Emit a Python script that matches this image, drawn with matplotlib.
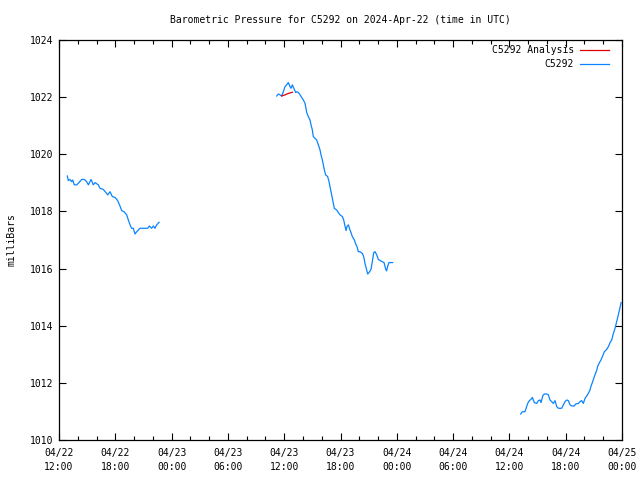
import matplotlib
matplotlib.use("Agg")
import matplotlib.pyplot as plt
from matplotlib.ticker import MultipleLocator, FixedLocator

# hours since 2024-04-22 12:00 UTC
seg1_t = [0.89, 0.99, 1.17, 1.35, 1.46, 1.63, 1.88, 2.13, 2.42, 2.70, 2.95, 3.13, 3.41, 3.66, 3.84, 4.19,
          4.37, 4.72, 5.08, 5.19, 5.44, 5.68, 5.97, 6.25, 6.50, 6.68, 6.93, 7.21, 7.39, 7.57, 7.74, 7.92,
          8.10, 8.28, 8.63, 9.17, 9.45, 9.63, 9.88, 10.05, 10.23, 10.41, 10.66]
seg1_p = [1019.24, 1019.08, 1019.12, 1019.04, 1019.10, 1018.93, 1018.93, 1019.01, 1019.12, 1019.12, 1019.04,
          1018.93, 1019.12, 1018.93, 1019.01, 1018.93, 1018.81, 1018.77, 1018.63, 1018.58, 1018.69, 1018.52,
          1018.49, 1018.38, 1018.19, 1018.03, 1017.99, 1017.88, 1017.70, 1017.53, 1017.41, 1017.41, 1017.21,
          1017.29, 1017.41, 1017.41, 1017.41, 1017.49, 1017.41, 1017.49, 1017.41, 1017.53, 1017.62]

seg2_t = [23.20, 23.38, 23.55, 23.73, 23.91, 24.09, 24.26, 24.44, 24.62, 24.73, 24.87, 25.08, 25.22, 25.33,
          25.51, 25.69, 25.86, 26.04, 26.22, 26.32, 26.40, 26.57, 26.75, 26.86, 27.00, 27.10, 27.28, 27.46,
          27.64, 27.82, 27.92, 28.07, 28.17, 28.28, 28.42, 28.63, 28.78, 28.88, 28.99, 29.13, 29.24, 29.34,
          29.59, 29.77, 29.95, 30.20, 30.34, 30.48, 30.59, 30.69, 30.84, 31.01, 31.12, 31.26, 31.48, 31.62,
          31.76, 31.90, 32.08, 32.33, 32.47, 32.61, 32.79, 32.90, 33.04, 33.25, 33.39, 33.54, 33.68, 33.86,
          34.03, 34.21, 34.46, 34.64, 34.82, 34.92, 35.03, 35.17, 35.56]
seg2_p = [1022.04, 1022.11, 1022.08, 1022.04, 1022.19, 1022.37, 1022.43, 1022.51, 1022.37, 1022.31, 1022.43,
          1022.27, 1022.16, 1022.19, 1022.16, 1022.08, 1021.99, 1021.90, 1021.78, 1021.61, 1021.46, 1021.32,
          1021.20, 1021.03, 1020.85, 1020.62, 1020.56, 1020.50, 1020.33, 1020.15, 1019.98, 1019.80, 1019.63,
          1019.45, 1019.28, 1019.22, 1019.04, 1018.87, 1018.69, 1018.46, 1018.28, 1018.11, 1018.05, 1017.96,
          1017.88, 1017.82, 1017.70, 1017.49, 1017.33, 1017.47, 1017.53, 1017.35, 1017.26, 1017.12, 1017.00,
          1016.86, 1016.77, 1016.59, 1016.59, 1016.53, 1016.42, 1016.18, 1015.95, 1015.81, 1015.86, 1015.97,
          1016.24, 1016.56, 1016.59, 1016.48, 1016.32, 1016.28, 1016.24, 1016.21, 1015.97, 1015.92, 1016.09,
          1016.21, 1016.21]

seg3_t = [49.20, 49.38, 49.66, 49.84, 49.95, 50.13, 50.30, 50.45, 50.66, 50.91, 51.09, 51.26, 51.37, 51.55,
          51.72, 51.97, 52.15, 52.33, 52.51, 52.68, 52.86, 53.04, 53.22, 53.57, 53.75, 53.93, 54.10, 54.28,
          54.46, 54.64, 54.92, 55.06, 55.35, 55.52, 55.70, 55.88, 56.06, 56.24, 56.41, 56.59, 56.70, 56.84,
          56.95, 57.12, 57.30, 57.40, 57.55, 57.76, 57.91, 58.12, 58.37, 58.55, 58.73, 58.90, 59.08, 59.26,
          59.43, 59.61, 59.79, 59.90]
seg3_p = [1010.91, 1010.99, 1010.99, 1011.17, 1011.28, 1011.38, 1011.42, 1011.49, 1011.31, 1011.28, 1011.38,
          1011.40, 1011.31, 1011.54, 1011.61, 1011.61, 1011.58, 1011.40, 1011.34, 1011.28, 1011.38, 1011.17,
          1011.11, 1011.11, 1011.23, 1011.34, 1011.40, 1011.38, 1011.23, 1011.19, 1011.19, 1011.26, 1011.28,
          1011.34, 1011.38, 1011.28, 1011.46, 1011.54, 1011.63, 1011.75, 1011.89, 1012.01, 1012.12, 1012.28,
          1012.43, 1012.57, 1012.68, 1012.80, 1012.92, 1013.09, 1013.17, 1013.27, 1013.41, 1013.50, 1013.73,
          1013.91, 1014.14, 1014.38, 1014.64, 1014.81]

analysis_t = [23.73, 24.09, 24.44, 24.87]
analysis_p = [1022.04, 1022.08, 1022.13, 1022.17]

xtick_labels = ["04/22\n12:00", "04/22\n18:00", "04/23\n00:00", "04/23\n06:00", "04/23\n12:00",
                "04/23\n18:00", "04/24\n00:00", "04/24\n06:00", "04/24\n12:00", "04/24\n18:00",
                "04/25\n00:00"]

FONT = "DejaVu Sans Mono"
FS = 7
BLUE = "#0a84ff"
RED = "#e00000"

fig = plt.figure(figsize=(6.4, 4.8), dpi=100)
ax = fig.add_axes([59/640, 1-440/480, (622-59)/640, 400/480])

l_st, = ax.plot(seg1_t, seg1_p, color=BLUE, lw=0.9)
ax.plot(seg2_t, seg2_p, color=BLUE, lw=0.9)
ax.plot(seg3_t, seg3_p, color=BLUE, lw=0.9)
l_an, = ax.plot(analysis_t, analysis_p, color=RED, lw=0.9, zorder=3)

ax.set_xlim(0, 60)
ax.set_ylim(1010, 1024)
ax.xaxis.set_major_locator(FixedLocator(list(range(0, 61, 6))))
ax.xaxis.set_minor_locator(MultipleLocator(2))
ax.set_xticklabels(xtick_labels, fontfamily=FONT, fontsize=FS, linespacing=1.45)
ax.yaxis.set_major_locator(MultipleLocator(2))
for lab in ax.get_yticklabels():
    lab.set_fontfamily(FONT)
    lab.set_fontsize(FS)
ax.tick_params(which="both", direction="in", top=True, right=True, width=0.8)
ax.tick_params(which="major", length=5, pad=4)
ax.tick_params(axis="x", which="major", pad=6)
ax.tick_params(which="minor", length=3)
for s in ax.spines.values():
    s.set_linewidth(0.9)

ax.set_title("Barometric Pressure for C5292 on 2024-Apr-22 (time in UTC)",
             fontfamily=FONT, fontsize=FS, pad=12.5)
ax.set_ylabel("milliBars", fontfamily=FONT, fontsize=FS, labelpad=10)

leg = ax.legend([l_an, l_st], ["C5292 Analysis", "C5292"], loc="upper right",
                bbox_to_anchor=(1 - 13/563, 1 - 5/400), bbox_transform=ax.transAxes,
                frameon=False, markerfirst=False, prop={"family": FONT, "size": FS},
                handlelength=3.0, handletextpad=0.6, labelspacing=0.45,
                borderpad=0.0, borderaxespad=0.0)
for t in leg.get_texts():
    t.set_ha("right")

fig.savefig("out.png", dpi=100)
